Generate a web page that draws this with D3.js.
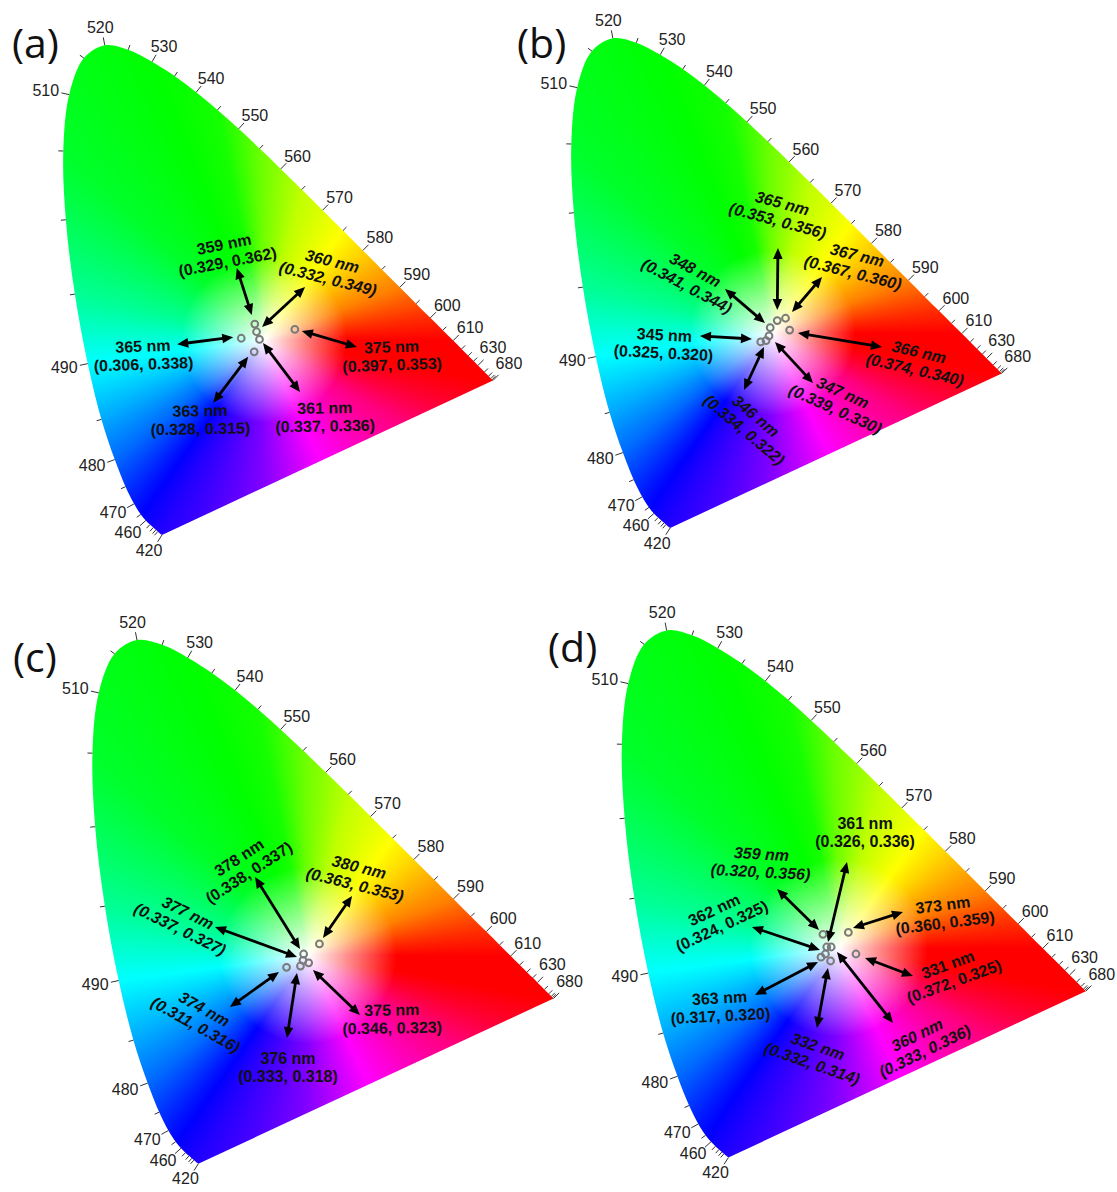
<!DOCTYPE html>
<html>
<head>
<meta charset="utf-8">
<script src="https://cdn.jsdelivr.net/npm/d3@7"></script>
<style>
body { margin: 0; background: #fff; }
svg { display: block; }
</style>
</head>
<body>
<svg id="chart" width="1117" height="1192"></svg>
<script>
// CIE 1931 spectral locus, 420-680 nm every 5 nm
var locusNm = [420,425,430,435,440,445,450,455,460,465,470,475,480,485,490,495,500,505,510,515,
  520,525,530,535,540,545,550,555,560,565,570,575,580,585,590,595,600,605,610,615,
  620,625,630,635,640,645,650,655,660,665,670,675,680];
var locusX = [0.1714,0.1703,0.1689,0.1669,0.1644,0.1611,0.1566,0.1510,0.1440,0.1355,
  0.1241,0.1096,0.0913,0.0687,0.0454,0.0235,0.0082,0.0039,0.0139,0.0389,
  0.0743,0.1142,0.1547,0.1929,0.2296,0.2658,0.3016,0.3373,0.3731,0.4087,
  0.4441,0.4788,0.5125,0.5448,0.5752,0.6029,0.6270,0.6482,0.6658,0.6801,
  0.6915,0.7006,0.7079,0.7140,0.7190,0.7230,0.7260,0.7283,0.7300,0.7311,
  0.7320,0.7327,0.7334];
var locusY = [0.0051,0.0058,0.0069,0.0086,0.0109,0.0138,0.0177,0.0227,0.0297,0.0399,
  0.0578,0.0868,0.1327,0.2007,0.2950,0.4127,0.5384,0.6548,0.7502,0.8120,
  0.8338,0.8262,0.8059,0.7816,0.7543,0.7243,0.6923,0.6589,0.6245,0.5896,
  0.5547,0.5202,0.4866,0.4544,0.4242,0.3965,0.3725,0.3514,0.3340,0.3197,
  0.3083,0.2993,0.2920,0.2859,0.2809,0.2770,0.2740,0.2717,0.2700,0.2689,
  0.2680,0.2673,0.2666];

// wavelength ticks and tick labels
var tickNm = [420,440,445,450,455,460,465,470,475,480,485,490,495,500,505,510,515,520,525,530,
  535,540,545,550,555,560,565,570,575,580,585,590,595,600,605,610,615,620,625,630,640,650,660,670,680];
var tickLabelNm = [420,460,470,480,490,510,520,530,540,550,560,570,580,590,600,610,630,680];

// panel (a)
var aNm = [359,360,375,361,363,365];
var aX  = [0.329,0.332,0.397,0.337,0.328,0.306];
var aY  = [0.362,0.349,0.353,0.336,0.315,0.338];
// panel (b)
var bNm = [365,367,348,366,345,346,347];
var bX  = [0.353,0.367,0.341,0.374,0.325,0.334,0.339];
var bY  = [0.356,0.360,0.344,0.340,0.320,0.322,0.330];
// panel (c)
var cNm = [378,380,377,374,375,376];
var cX  = [0.338,0.363,0.337,0.311,0.346,0.333];
var cY  = [0.337,0.353,0.327,0.316,0.323,0.318];
// panel (d)
var dNm = [361,359,362,373,331,363,332,360];
var dX  = [0.326,0.320,0.324,0.360,0.372,0.317,0.332,0.333];
var dY  = [0.336,0.356,0.325,0.359,0.325,0.320,0.314,0.336];

// annotation layout, px from the point: arrow start, arrow end, label centre, rotation, italic
var aLayout = [
  [-3,-9, -18,-56, -29,-71, -11,0],
  [5.5,-4.7, 48.5,-44.7, 73.5,-61.7, 14,1],
  [7,1.6, 62,17.6, 97,26.6, -2,0],
  [3.5,3.6, 40.5,52.6, 65.5,77.6, -1,0],
  [-6,5, -41,51, -54,68, -1,0],
  [-8,-1, -64,6, -98,17, -2,0]
];
var bLayout = [
  [0,-10.6, 0.7,-72.6, 2.7,-108.6, 15,1],
  [6.5,-6.2, 36.5,-41.2, 69.5,-54.2, 14,1],
  [-5.2,-4.7, -45.2,-38.7, -79.2,-49.7, 28,1],
  [8.3,2.9, 92.3,16.9, 127.3,30.9, 13,1],
  [-8.8,-2.9, -60.8,-5.9, -96.8,2.1, 3,0],
  [-2.1,6.3, -22.1,49.3, -16.1,82.3, 40,1],
  [6,6, 44,47, 70,65, 24,1]
];
var cLayout = [
  [-3.6,-5, -48.6,-77, -59.6,-89, -33,0],
  [3.6,-6, 32.6,-48, 37.6,-68, 14,1],
  [-6,-3.3, -88,-33.3, -119,-39.3, 26,1],
  [-7.6,4.7, -56.6,39.7, -86.6,49.7, 29,1],
  [4.3,7.1, 51.3,52.1, 83.3,56.1, -1,0],
  [-3.5,7, -13.5,72, -12.5,101, 0,0]
];
var dLayout = [
  [1.3,-5, 20.3,-85, 38.3,-115, 0,0],
  [-3.9,-4.3, -45.9,-45.3, -61.9,-71.3, 3,1],
  [-5.5,-4, -73.5,-27, -107.5,-36, -25,0],
  [4.6,-4.4, 54.6,-20.4, 95.6,-18.4, -7,0],
  [9,4, 57,22, 95,19, -20,0],
  [-3,4.8, -66,37.8, -101,49.8, -3,0],
  [-2.6,7, -13.6,67, -15.6,94, 19,1],
  [5.8,5, 61.8,76, 89.8,96, -26,1]
];

// colour map: hue anchors on the locus and on the purple line
var whitePt = [0.345, 0.335];
var hueNm  = [680,610,600,590,580,575,565,555,545,530,505,495,490,485,480,470,460,420];
var hueVal = [0,0,10,30,50,60,75,95,115,120,130,155,180,200,215,235,242,248];
var purpleT   = [0.3,0.48,0.72,0.87];
var purpleHue = [270,300,330,350];
var satRadius = 0.14;

var panels = [
  {name:"(a)", nm:aNm, x:aX, y:aY, lay:aLayout, ox:61, oy:538, kx:589, ky:591, lx:12, ly:58},
  {name:"(b)", nm:bNm, x:bX, y:bY, lay:bLayout, ox:569, oy:531, kx:590, ky:591, lx:517, ly:58},
  {name:"(c)", nm:cNm, x:cX, y:cY, lay:cLayout, ox:90, oy:1167, kx:632, ky:632, lx:13, ly:672},
  {name:"(d)", nm:dNm, x:dX, y:dY, lay:dLayout, ox:619.4, oy:1160.7, kx:636, ky:636, lx:548, ly:662}
];
var labelNudge = {680:[-1,-4], 630:[-2,-5]};

var svg = d3.select("#chart");
var defs = svg.append("defs");

// build angle -> hue table
function ang(x, y) { return Math.atan2(y - whitePt[1], x - whitePt[0]) * 180 / Math.PI; }
var anchors = [];
hueNm.forEach(function(w, i) {
  var j = locusNm.indexOf(w);
  anchors.push([ang(locusX[j], locusY[j]), hueVal[i]]);
});
var p420 = locusNm.indexOf(420), p680 = locusNm.indexOf(680);
purpleT.forEach(function(t, i) {
  var px = locusX[p420] + t * (locusX[p680] - locusX[p420]);
  var py = locusY[p420] + t * (locusY[p680] - locusY[p420]);
  anchors.push([ang(px, py), purpleHue[i]]);
});
for (var i = 1; i < anchors.length; i++) {
  while (anchors[i][0] < anchors[i-1][0]) anchors[i][0] += 360;
}
anchors.push([anchors[0][0] + 360, 360]);

function hueAt(phi) {
  var t0 = anchors[0][0];
  while (phi < t0) phi += 360;
  while (phi >= t0 + 360) phi -= 360;
  for (var i = 0; i < anchors.length - 1; i++) {
    if (phi >= anchors[i][0] && phi < anchors[i+1][0]) {
      var f = (phi - anchors[i][0]) / (anchors[i+1][0] - anchors[i][0]);
      return anchors[i][1] + f * (anchors[i+1][1] - anchors[i][1]);
    }
  }
  return 0;
}
function hueRgb(h) {
  h = ((h % 360) + 360) % 360;
  var x = 1 - Math.abs((h / 60) % 2 - 1);
  if (h < 60) return [1, x, 0];
  if (h < 120) return [x, 1, 0];
  if (h < 180) return [0, 1, x];
  if (h < 240) return [0, x, 1];
  if (h < 300) return [x, 0, 1];
  return [1, 0, x];
}

function arrow(g, x1, y1, x2, y2) {
  var dx = x2 - x1, dy = y2 - y1, len = Math.sqrt(dx*dx + dy*dy);
  var ux = dx / len, uy = dy / len, vx = -uy, vy = ux;
  var hl = 11, hw = 4.8;
  g.append("line")
    .attr("x1", x1 + ux*8).attr("y1", y1 + uy*8)
    .attr("x2", x2 - ux*8).attr("y2", y2 - uy*8)
    .attr("stroke", "#000").attr("stroke-width", 2.8);
  [[x1, y1, 1], [x2, y2, -1]].forEach(function(e) {
    var bx = e[0] + e[2]*ux*hl, by = e[1] + e[2]*uy*hl;
    g.append("path")
      .attr("d", "M" + e[0] + "," + e[1] + "L" + (bx + vx*hw) + "," + (by + vy*hw) +
        "L" + (bx - vx*hw) + "," + (by - vy*hw) + "Z")
      .attr("fill", "#000");
  });
}

panels.forEach(function(p, pi) {
  var xs = d3.scaleLinear().domain([0, 1]).range([p.ox, p.ox + p.kx]);
  var ys = d3.scaleLinear().domain([0, 1]).range([p.oy, p.oy - p.ky]);
  var g = svg.append("g");

  var pts = locusNm.map(function(w, i) { return [xs(locusX[i]), ys(locusY[i])]; });
  var pathStr = d3.line().curve(d3.curveCatmullRom)(pts) + "Z";
  defs.append("clipPath").attr("id", "clip" + pi).append("path").attr("d", pathStr);

  // colour fill
  var bx = Math.floor(d3.min(pts, function(d) { return d[0]; })) - 2;
  var by = Math.floor(d3.min(pts, function(d) { return d[1]; })) - 2;
  var bw = Math.ceil(d3.max(pts, function(d) { return d[0]; })) + 2 - bx;
  var bh = Math.ceil(d3.max(pts, function(d) { return d[1]; })) + 2 - by;
  var cv = document.createElement("canvas");
  cv.width = bw; cv.height = bh;
  var ctx = cv.getContext("2d");
  var img = ctx.createImageData(bw, bh);
  for (var j = 0; j < bh; j++) {
    var cy = ys.invert(by + j + 0.5);
    for (var i = 0; i < bw; i++) {
      var cx = xs.invert(bx + i + 0.5);
      var dx = cx - whitePt[0], dy = cy - whitePt[1];
      var r = Math.sqrt(dx*dx + dy*dy);
      var s = Math.min(1, r / satRadius);
      var c = hueRgb(hueAt(Math.atan2(dy, dx) * 180 / Math.PI));
      var k = (j * bw + i) * 4;
      img.data[k]   = Math.round(255 * (1 - s + s * c[0]));
      img.data[k+1] = Math.round(255 * (1 - s + s * c[1]));
      img.data[k+2] = Math.round(255 * (1 - s + s * c[2]));
      img.data[k+3] = 255;
    }
  }
  ctx.putImageData(img, 0, 0);
  g.append("image")
    .attr("x", bx).attr("y", by).attr("width", bw).attr("height", bh)
    .attr("preserveAspectRatio", "none")
    .attr("href", cv.toDataURL())
    .attr("clip-path", "url(#clip" + pi + ")");

  // wavelength ticks
  tickNm.forEach(function(w) {
    var i = locusNm.indexOf(w);
    var a = pts[Math.max(i - 1, 0)], b = pts[Math.min(i + 1, pts.length - 1)];
    var tx = b[0] - a[0], ty = b[1] - a[1], tl = Math.sqrt(tx*tx + ty*ty);
    var nx = ty / tl, ny = -tx / tl;
    var major = tickLabelNm.indexOf(w) >= 0;
    var L = major ? 8 : 5;
    var q = pts[i];
    g.append("line")
      .attr("x1", q[0]).attr("y1", q[1])
      .attr("x2", q[0] + nx*L).attr("y2", q[1] + ny*L)
      .attr("stroke", "#333").attr("stroke-width", 1);
    if (major) {
      var nud = labelNudge[w] || [0, 0];
      g.append("text")
        .attr("x", q[0] + nx*(L + 3) + nx*13 + nud[0])
        .attr("y", q[1] + ny*(L + 3) + ny*7 + nud[1])
        .attr("text-anchor", "middle")
        .attr("dominant-baseline", "central")
        .attr("font-family", "Liberation Sans, Arial, sans-serif")
        .attr("font-size", 16)
        .attr("fill", "#222")
        .text(w);
    }
  });

  // arrows and labels
  p.nm.forEach(function(w, i) {
    var px = xs(p.x[i]), py = ys(p.y[i]), L = p.lay[i];
    arrow(g, px + L[0], py + L[1], px + L[2], py + L[3]);
    var t = g.append("g")
      .attr("transform", "translate(" + (px + L[4]) + "," + (py + L[5]) + ") rotate(" + L[6] + ")")
      .append("text")
      .attr("text-anchor", "middle")
      .attr("font-family", "Liberation Sans, Arial, sans-serif")
      .attr("font-weight", "bold")
      .attr("font-style", L[7] ? "italic" : "normal")
      .attr("font-size", 16)
      .attr("fill", "#111");
    t.append("tspan").attr("x", 0).attr("y", -3.5).text(w + " nm");
    t.append("tspan").attr("x", 0).attr("y", 14.5)
      .text("(" + p.x[i].toFixed(3) + ", " + p.y[i].toFixed(3) + ")");
  });

  // measured points
  g.selectAll("circle.pt").data(p.nm).enter().append("circle")
    .attr("class", "pt")
    .attr("cx", function(d, i) { return xs(p.x[i]); })
    .attr("cy", function(d, i) { return ys(p.y[i]); })
    .attr("r", 3.4)
    .attr("fill", "none")
    .attr("stroke", "#7a7a7a")
    .attr("stroke-width", 2);

  // panel letter
  svg.append("text")
    .attr("x", p.lx).attr("y", p.ly)
    .attr("font-family", "Open Sans, Liberation Sans, sans-serif")
    .attr("font-size", 41)
    .attr("fill", "#111")
    .text(p.name);
});
</script>
</body>
</html>
